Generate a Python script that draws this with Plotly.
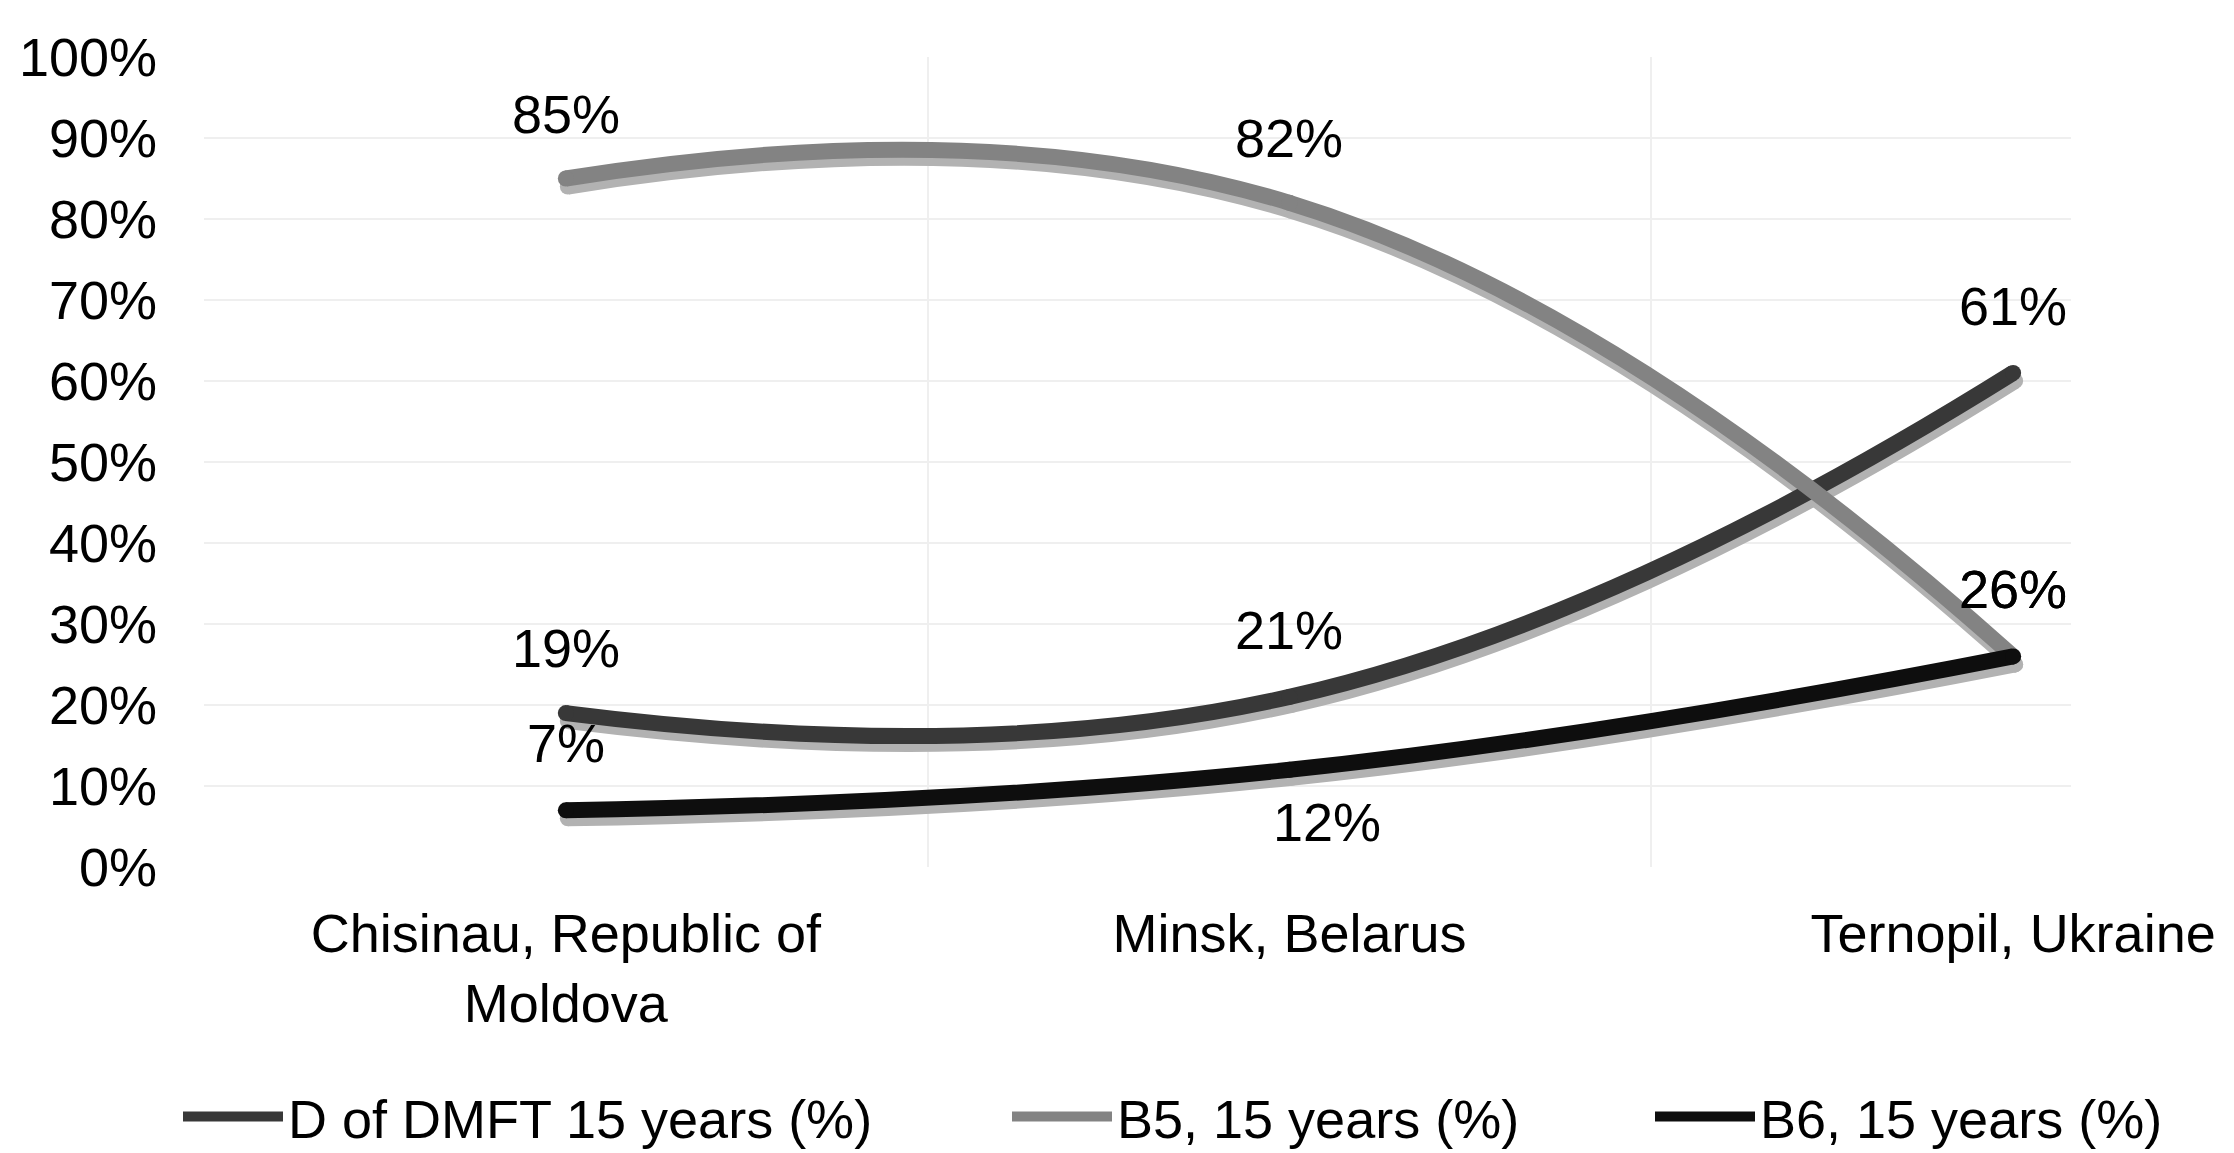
import plotly.graph_objects as go

# ---- data -------------------------------------------------------------
categories = ["Chisinau, Republic of<br>Moldova", "Minsk, Belarus", "Ternopil, Ukraine"]
series_names = ["D of DMFT 15 years (%)", "B5, 15 years (%)", "B6, 15 years (%)"]
d_of_dmft = [19, 21, 61]
b5_15_years = [85, 82, 26]
b6_15_years = [7, 12, 26]
y_tick_values = [0, 10, 20, 30, 40, 50, 60, 70, 80, 90, 100]
y_tick_labels = [f"{v}%" for v in y_tick_values]

# ---- styling ----------------------------------------------------------
W, H = 2234, 1153
FONT = "Liberation Sans, Arial, Helvetica, sans-serif"
FS = 54
line_colors = ["#383838", "#838383", "#0e0e0e"]
shadow_color = "#b2b2b2"
LINE_W = 16
# per-point label offsets (xshift, yshift) in pixels
label_offsets = [
    [(0, 65), (0, 67), (0, 67)],
    [(0, 65), (0, 65), (0, 67)],
    [(0, 67), (38, -52), (0, 67)],
]
# legend anchor x (pixels from the left edge)
legend_x_px = [178, 1007, 1650]

series_values = [d_of_dmft, b5_15_years, b6_15_years]
x_pos = list(range(len(categories)))

M_L, M_R, M_T, M_B = 204, 163, 57, 286
plot_w = W - M_L - M_R
plot_h = H - M_T - M_B
x_range = [-0.5, 2.08]
y_range = [0, 100]
px_per_x = plot_w / (x_range[1] - x_range[0])
px_per_y = plot_h / (y_range[1] - y_range[0])
# drop-shadow offset in pixels
SH_DX, SH_DY = 2, 8
shadow_x_range = [x_range[0] - SH_DX / px_per_x, x_range[1] - SH_DX / px_per_x]
shadow_y_range = [y_range[0] + SH_DY / px_per_y, y_range[1] + SH_DY / px_per_y]

fig = go.Figure()

# shadows (drawn first, on shifted overlay axes)
for vals in series_values:
    fig.add_trace(go.Scatter(
        x=x_pos, y=vals, xaxis="x2", yaxis="y2", mode="lines+markers",
        line=dict(color=shadow_color, width=LINE_W, shape="spline", smoothing=1.3),
        marker=dict(color=shadow_color, size=LINE_W, line=dict(width=0)),
        showlegend=False, hoverinfo="skip",
    ))

legend_ids = ["legend", "legend2", "legend3"]
for i, (name, vals) in enumerate(zip(series_names, series_values)):
    fig.add_trace(go.Scatter(
        x=x_pos, y=vals, xaxis="x3", yaxis="y3", mode="lines", name=name,
        line=dict(color=line_colors[i], width=LINE_W, shape="spline", smoothing=1.3),
        legend=legend_ids[i],
    ))
    # round end caps
    fig.add_trace(go.Scatter(
        x=x_pos, y=vals, xaxis="x3", yaxis="y3", mode="markers",
        marker=dict(color=line_colors[i], size=LINE_W, line=dict(width=0)),
        showlegend=False, hoverinfo="skip",
    ))

annotations = []
for i, vals in enumerate(series_values):
    for j, v in enumerate(vals):
        dx, dy = label_offsets[i][j]
        annotations.append(dict(
            x=x_pos[j], y=v, xref="x", yref="y", text=f"{v}%", showarrow=False,
            xshift=dx, yshift=dy, font=dict(family=FONT, size=FS, color="#000"),
        ))

grid_color = "#efefef"
legend_common = dict(
    orientation="h", xref="container", yref="container", xanchor="left",
    yanchor="middle", y=1 - 1117 / H, itemwidth=100,
    font=dict(family=FONT, size=FS, color="#000"), bgcolor="rgba(0,0,0,0)",
)

fig.update_layout(
    width=W, height=H, autosize=False,
    margin=dict(l=M_L, r=M_R, t=M_T, b=M_B),
    paper_bgcolor="white", plot_bgcolor="white",
    font=dict(family=FONT, size=FS, color="#000"),
    xaxis=dict(
        range=x_range, tickmode="array", tickvals=x_pos, ticktext=categories,
        showgrid=False, zeroline=False, showline=False, ticks="",
        ticklabelstandoff=30,
        minor=dict(tickmode="array", tickvals=[0.5, 1.5], showgrid=True,
                   gridcolor=grid_color, gridwidth=2, ticks=""),
        tickfont=dict(family=FONT, size=FS, color="#000"),
    ),
    yaxis=dict(
        range=y_range, tickmode="array", tickvals=y_tick_values, ticktext=y_tick_labels,
        showgrid=True, gridcolor=grid_color, gridwidth=2, zeroline=False,
        showline=False, ticks="", ticklabelstandoff=46,
        tickfont=dict(family=FONT, size=FS, color="#000"),
    ),
    xaxis2=dict(range=shadow_x_range, overlaying="x", visible=False),
    yaxis2=dict(range=shadow_y_range, overlaying="y", visible=False),
    xaxis3=dict(range=x_range, overlaying="x", visible=False),
    yaxis3=dict(range=y_range, overlaying="y", visible=False),
    legend=dict(x=legend_x_px[0] / W, **legend_common),
    legend2=dict(x=legend_x_px[1] / W, **legend_common),
    legend3=dict(x=legend_x_px[2] / W, **legend_common),
    annotations=annotations,
)

fig.write_html("out.html")
